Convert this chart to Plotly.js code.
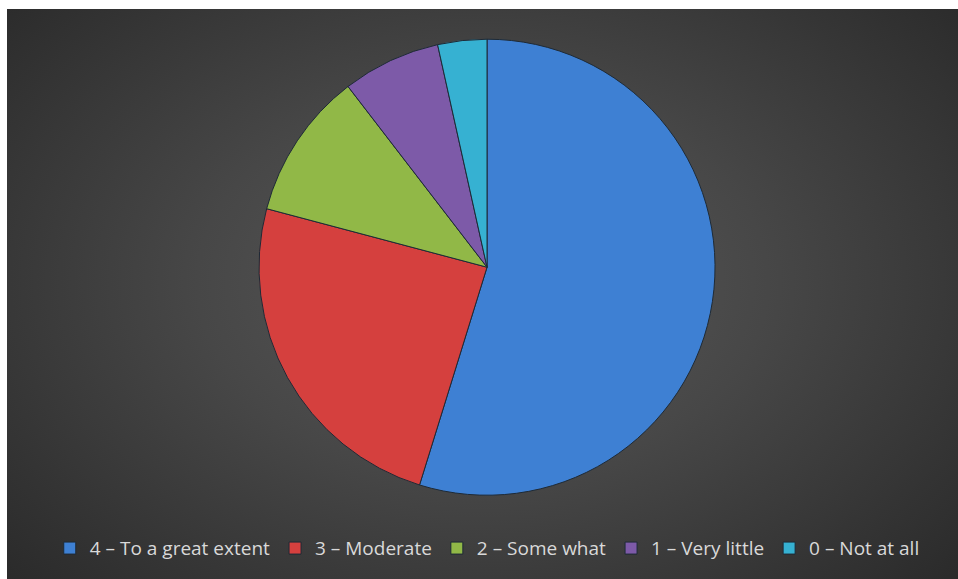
<!DOCTYPE html>
<html>
<head>
<meta charset="utf-8">
<script src="https://cdn.plot.ly/plotly-3.0.1.min.js"></script>
<style>
  html, body { margin: 0; padding: 0; background: #ffffff; width: 958px; height: 579px; overflow: hidden; }
  #frame {
    position: absolute; left: 7px; top: 9px; width: 951px; height: 570px;
    background: radial-gradient(ellipse 75% 85% at 50% 48%, #5a5a5a 0%, #474747 40%, #333333 75%, #252525 100%);
  }
  #chart { position: absolute; left: 0; top: 0; width: 951px; height: 570px; }
</style>
</head>
<body>
<div id="frame"><div id="chart"></div></div>
<script>
const categories = ["4 – To a great extent", "3 – Moderate", "2 – Some what", "1 – Very little", "0 – Not at all"];
const values = [63, 28, 12, 8, 4];
const colors = ["#3e80d3", "#d5403e", "#91b847", "#7d5aa8", "#36b1d2"];

const trace = {
  type: "pie",
  labels: categories,
  values: values,
  sort: false,
  direction: "clockwise",
  rotation: 0,
  textinfo: "none",
  hoverinfo: "label+value+percent",
  marker: { colors: colors, line: { color: "#1e2a36", width: 1 } },
  domain: { x: [0.2650, 0.7445], y: [0.147, 0.947] }
};

const layout = {
  width: 951, height: 570,
  margin: { l: 0, r: 0, t: 0, b: 0 },
  paper_bgcolor: "rgba(0,0,0,0)",
  plot_bgcolor: "rgba(0,0,0,0)",
  showlegend: true,
  legend: {
    orientation: "h",
    x: 0.505, xanchor: "center",
    y: 0.054, yanchor: "middle",
    font: { family: "Open Sans, Liberation Sans, sans-serif", size: 19, color: "#d9d9d9" },
    itemwidth: 30,
    traceorder: "normal",
    bgcolor: "rgba(0,0,0,0)"
  }
};

Plotly.newPlot("chart", [trace], layout, { displayModeBar: false, staticPlot: true });
</script>
</body>
</html>
